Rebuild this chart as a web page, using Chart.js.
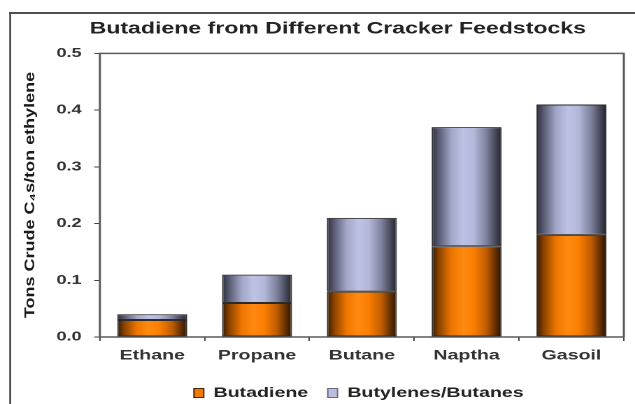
<!DOCTYPE html>
<html>
<head>
<meta charset="utf-8">
<script src="https://cdn.jsdelivr.net/npm/chart.js@4/dist/chart.umd.min.js"></script>
<style>
  html, body { margin: 0; padding: 0; background: #fff; overflow: hidden; }
  /* the reference looks stretched sideways, so the chart is drawn narrow and scaled in x */
  #wrap { width: 454px; height: 404px; transform: scaleX(1.3987); transform-origin: 0 0; }
</style>
</head>
<body>
<div id="wrap"><canvas id="chart" width="454" height="404"></canvas></div>
<script>
// data
const categories = ['Ethane', 'Propane', 'Butane', 'Naptha', 'Gasoil'];
const butadiene = [0.03, 0.06, 0.08, 0.16, 0.18];
const butylenesButanes = [0.01, 0.05, 0.13, 0.21, 0.23];
const seriesNames = ['Butadiene', 'Butylenes/Butanes'];
const yMin = 0, yMax = 0.5, yStep = 0.1;
const chartTitle = 'Butadiene from Different Cracker Feedstocks';
const yTitle = 'Tons Crude C\u2084s/ton ethylene';

const FONT = "'Liberation Sans', Arial, sans-serif";
const BAR_PCT = 0.667;

// cylinder look: horizontal gradient across each bar
const orangeStops = [[0, '#351900'], [0.1, '#8a4200'], [0.28, '#ee7600'], [0.45, '#ff8a12'], [0.6, '#fb7f00'], [0.78, '#c05d00'], [0.92, '#5e2c00'], [1, '#2a1300']];
const lavenderStops = [[0, '#2c2e3a'], [0.1, '#585b72'], [0.28, '#a2a6c7'], [0.45, '#bec2e4'], [0.6, '#b4b8da'], [0.78, '#7f829d'], [0.92, '#434556'], [1, '#22232c']];
const legendFill = ['#f07a00', '#b9bddf'];
const legendStroke = ['#4a2400', '#6a6c80'];

function cylinder(stops, flat) {
    return function (ctx) {
        if (ctx.type !== 'data') return flat;
        const chart = ctx.chart;
        const xs = chart.scales.x;
        if (!xs || !xs.width) return flat;
        const cx = xs.getPixelForValue(ctx.dataIndex);
        const half = xs.width / categories.length * BAR_PCT / 2;
        const g = chart.ctx.createLinearGradient(cx - half, 0, cx + half, 0);
        stops.forEach(s => g.addColorStop(s[0], s[1]));
        return g;
    };
}

// frame, plot box, rotated axis title and small position shifts
const decor = {
    id: 'decor',
    afterLayout(chart) {
        if (chart.titleBlock) { chart.titleBlock.left += 15; chart.titleBlock.right += 15; }
        if (chart.legend) {
            chart.legend.left += 30; chart.legend.right += 30;
            chart.legend.top += 6; chart.legend.bottom += 6;
        }
    },
    beforeDraw(chart) {
        const c = chart.ctx;
        c.save();
        c.fillStyle = '#fff';
        c.fillRect(0, 0, chart.width, chart.height);
        c.fillStyle = '#505050';
        c.fillRect(6.6, 12, 1.4, chart.height);
        c.fillRect(6.6, 12, chart.width, 2);
        c.restore();
    },
    afterDraw(chart) {
        const c = chart.ctx;
        const a = chart.chartArea;
        c.save();
        c.strokeStyle = '#5a5a5a';
        c.lineWidth = 1.5;
        c.strokeRect(a.left, a.top, a.right - a.left, a.bottom - a.top);
        c.fillStyle = '#1a1a1a';
        c.font = 'bold 18px ' + FONT;
        c.textAlign = 'center';
        c.textBaseline = 'middle';
        c.translate(21.6, 195);
        c.scale(0.56, 1);
        c.rotate(-Math.PI / 2);
        c.fillText(yTitle, 0, 0);
        c.restore();
    }
};

const ctx = document.getElementById('chart').getContext('2d');
const myChart = new Chart(ctx, {
    type: 'bar',
    data: {
        labels: categories,
        datasets: [
            {
                label: seriesNames[0],
                data: butadiene,
                backgroundColor: cylinder(orangeStops, legendFill[0]),
                borderColor: '#2a2a2a',
                borderWidth: 1,
                borderSkipped: false,
                barPercentage: BAR_PCT,
                categoryPercentage: 1
            },
            {
                label: seriesNames[1],
                data: butylenesButanes,
                backgroundColor: cylinder(lavenderStops, legendFill[1]),
                borderColor: '#2a2a2a',
                borderWidth: 1,
                borderSkipped: false,
                barPercentage: BAR_PCT,
                categoryPercentage: 1
            }
        ]
    },
    options: {
        responsive: false,
        animation: false,
        devicePixelRatio: 2,
        layout: { padding: { left: 7, right: 8, top: 0, bottom: 0 } },
        scales: {
            x: {
                stacked: true,
                border: { display: false },
                grid: { drawOnChartArea: false, color: '#444', tickLength: 4 },
                ticks: { color: '#333', padding: 6, maxRotation: 0, font: { family: FONT, size: 14, weight: 'bold' } },
                afterFit: s => { s.height = 29; }
            },
            y: {
                stacked: true,
                min: yMin,
                max: yMax,
                border: { display: false },
                grid: { drawOnChartArea: false, color: '#444', tickLength: 4 },
                ticks: {
                    stepSize: yStep,
                    color: '#333',
                    padding: 9,
                    font: { family: FONT, size: 13, weight: 'bold' },
                    callback: v => Number(v).toFixed(1)
                },
                afterFit: s => { s.width = 64.4; }
            }
        },
        plugins: {
            title: {
                display: true,
                text: chartTitle,
                color: '#222',
                font: { family: FONT, size: 16.5, weight: 'bold' },
                padding: { top: 19, bottom: 14.6 }
            },
            legend: {
                display: true,
                position: 'bottom',
                labels: {
                    boxWidth: 7,
                    boxHeight: 9,
                    padding: 14,
                    color: '#222',
                    font: { family: FONT, size: 14, weight: 'bold' },
                    generateLabels: chart => Chart.defaults.plugins.legend.labels.generateLabels(chart).map((item, i) => {
                        item.fillStyle = legendFill[i];
                        item.strokeStyle = legendStroke[i];
                        item.lineWidth = 1;
                        return item;
                    })
                }
            },
            tooltip: { enabled: false }
        }
    },
    plugins: [decor]
});
</script>
</body>
</html>
